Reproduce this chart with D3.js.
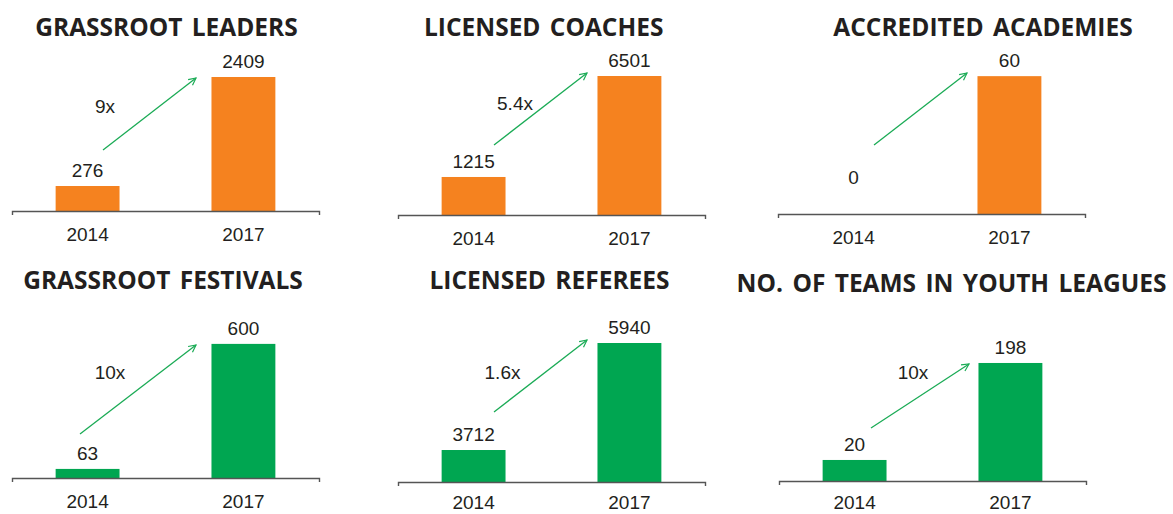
<!DOCTYPE html>
<html>
<head>
<meta charset="utf-8">
<script src="https://cdn.jsdelivr.net/npm/d3@7"></script>
<style>
	html, body { margin: 0; padding: 0; background: #fff; }
	svg { display: block; }
	.title { font-family: "Open Sans", sans-serif; font-weight: 700; fill: #231f20; }
	.num { font-family: "Liberation Sans", Arial, sans-serif; font-size: 19px; fill: #231f20; }
</style>
</head>
<body>
<svg id="chart" width="1173" height="514"></svg>
<script>
// chart data
var titles = ["GRASSROOT LEADERS", "LICENSED COACHES", "ACCREDITED ACADEMIES",
	"GRASSROOT FESTIVALS", "LICENSED REFEREES", "NO. OF TEAMS IN YOUTH LEAGUES"];
var years = ["2014", "2017"];
var values2014 = [276, 1215, 0, 63, 3712, 20];
var values2017 = [2409, 6501, 60, 600, 5940, 198];
var growth = ["9x", "5.4x", "", "10x", "1.6x", "10x"];

// value axis bounds of each small chart (the source is not drawn from zero)
var axisMin = [-213, -775, 0, 24, 3046, -18.6];
var axisMax = [2507, 6501, 60.5, 621, 5940, 236.5];

// layout: axis origin of each panel
var panelX = [12, 398, 778, 12, 398, 779];
var panelY = [211, 215, 214, 478, 482, 481];
// title centre / baseline, relative to the axis origin
var titleDx = [154.5, 145.7, 205, 151, 151.5, 172.5];
var titleDy = [-175, -179, -178, -189, -193, -189];
// growth arrows [x1, y1, x2, y2] and their labels, relative to the axis origin
var arrows = [[91, -61, 184, -133], [96, -70, 189, -142], [96, -69, 189, -141],
	[68, -44, 184, -133], [96, -70, 189, -142], [92, -53, 190, -117]];
var growthPos = [[93, -98], [117, -105], [0, 0], [98, -99], [104.5, -103], [134, -102]];

var barColor = ["#f5821f", "#f5821f", "#f5821f", "#00a651", "#00a651", "#00a651"];
var arrowColor = "#1aab55";
var axisW = 307, plotH = 139, svgH = 514;

var svg = d3.select("#chart");

svg.append("defs").append("marker")
	.attr("id", "head")
	.attr("viewBox", "0 0 10 10")
	.attr("refX", 9).attr("refY", 5)
	.attr("markerWidth", 9).attr("markerHeight", 9)
	.attr("markerUnits", "userSpaceOnUse")
	.attr("orient", "auto")
	.append("path")
	.attr("d", "M1,1 L9,5 L1,9")
	.attr("fill", "none")
	.attr("stroke", arrowColor)
	.attr("stroke-width", 1.3);

var x = d3.scaleBand().domain(years).range([0, axisW])
	.paddingInner(0.59).paddingOuter(0.28);

titles.forEach(function(t, i) {
	var g = svg.append("g").attr("transform", "translate(" + panelX[i] + "," + panelY[i] + ")");
	var y = d3.scaleLinear().domain([axisMin[i], axisMax[i]]).range([0, -plotH]);
	var vals = [values2014[i], values2017[i]];

	g.append("text").attr("class", "title")
		.attr("x", titleDx[i]).attr("y", titleDy[i])
		.attr("text-anchor", "middle")
		.style("font-size", "24.5px")
		.style("word-spacing", "3px")
		.text(t);

	// bars
	g.selectAll("rect.bar").data(vals).enter().append("rect")
		.attr("class", "bar")
		.attr("x", function(d, j) { return x(years[j]); })
		.attr("width", x.bandwidth())
		.attr("y", function(d) { return y(d); })
		.attr("height", function(d) { return y(axisMin[i]) - y(d); })
		.attr("fill", barColor[i]);

	// value labels
	g.selectAll("text.val").data(vals).enter().append("text")
		.attr("class", "num")
		.attr("text-anchor", "middle")
		.attr("x", function(d, j) { return x(years[j]) + x.bandwidth() / 2; })
		.attr("y", function(d) { return d === 0 ? -30 : y(d) - 9; })
		.text(function(d) { return d; });

	// category axis, labels kept inside the picture
	var pad = Math.min(17, svgH - 5 - 13.5 - panelY[i]);
	var ax = g.append("g").call(d3.axisBottom(x).tickSize(0).tickSizeOuter(4).tickPadding(pad));
	ax.select(".domain").attr("stroke", "#555").attr("stroke-width", 1.4);
	ax.selectAll("text").attr("class", "num").attr("fill", "#231f20")
		.style("font-size", "19px").style("font-family", "'Liberation Sans', Arial, sans-serif");

	// growth arrow
	var a = arrows[i];
	g.append("line")
		.attr("x1", a[0]).attr("y1", a[1]).attr("x2", a[2]).attr("y2", a[3])
		.attr("stroke", arrowColor).attr("stroke-width", 1.3)
		.attr("marker-end", "url(#head)");

	if (growth[i]) {
		g.append("text").attr("class", "num")
			.attr("text-anchor", "middle")
			.attr("x", growthPos[i][0]).attr("y", growthPos[i][1])
			.text(growth[i]);
	}
});
</script>
</body>
</html>
